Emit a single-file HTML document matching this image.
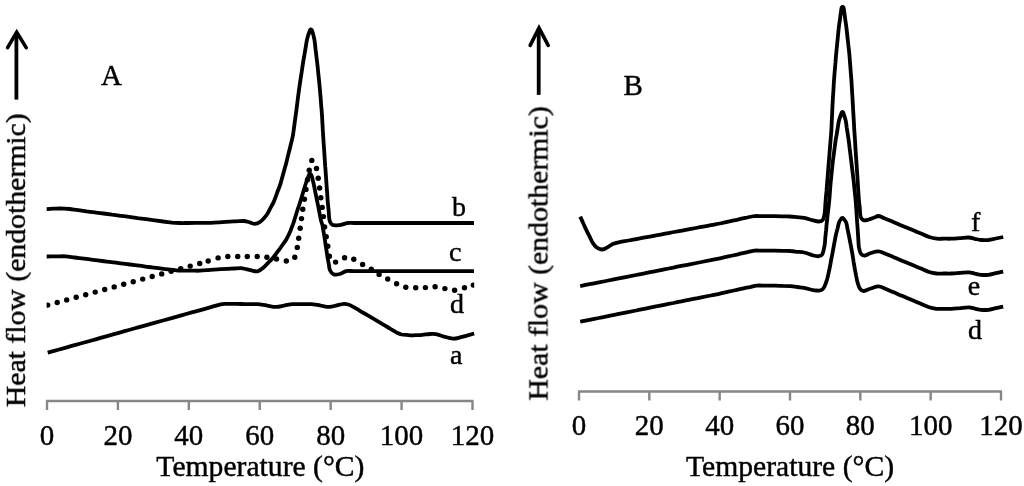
<!DOCTYPE html>
<html><head><meta charset="utf-8"><title>DSC thermograms</title>
<style>
html,body{margin:0;padding:0;background:#fff;}
svg{display:block;}
text{font-family:"Liberation Serif",serif;font-size:30px;fill:#000;stroke:#000;stroke-width:0.45px;}
</style></head><body>
<svg width="1024" height="486" viewBox="0 0 1024 486">
<defs><clipPath id="dc"><rect x="46.6" y="100" width="427.6" height="300"/></clipPath><filter id="soft" x="0" y="0" width="1024" height="486" filterUnits="userSpaceOnUse"><feGaussianBlur stdDeviation="0.55"/></filter></defs>
<rect width="1024" height="486" fill="#fff"/>
<g filter="url(#soft)">
<path d="M46.7,209.1C49.0,209.0 51.2,208.8 53.5,208.7C55.7,208.6 57.9,208.3 60.2,208.3C63.3,208.4 66.5,208.7 69.6,209.0C72.4,209.3 75.3,209.8 78.1,210.1C80.9,210.5 83.7,210.9 86.6,211.3C89.4,211.6 92.2,212.0 95.0,212.4C97.9,212.8 100.7,213.2 103.5,213.5C106.4,213.9 109.2,214.3 112.0,214.7C114.8,215.0 117.7,215.4 120.5,215.8C123.4,216.2 126.2,216.6 129.1,216.9C131.9,217.3 134.8,217.7 137.7,218.1C140.5,218.4 143.4,218.8 146.2,219.2C149.1,219.6 152.0,220.0 154.8,220.3C157.7,220.7 160.6,221.1 163.4,221.5C166.3,221.8 169.1,222.3 172.0,222.6C174.7,222.8 177.3,222.9 180.0,223.0C182.6,223.1 185.1,223.0 187.7,223.0C190.3,223.0 192.8,223.0 195.4,222.9C198.0,222.9 200.5,222.9 203.1,222.9C205.7,222.9 208.2,223.0 210.8,222.9C213.3,222.8 215.8,222.6 218.3,222.4C220.8,222.2 223.4,222.1 225.9,221.9C228.4,221.7 230.9,221.5 233.4,221.4C235.2,221.3 237.0,221.3 238.8,221.2C240.5,221.1 242.3,220.9 244.1,221.0C245.6,221.1 247.1,221.6 248.6,222.0C250.5,222.5 252.3,223.8 254.3,223.8C256.3,223.8 258.3,223.2 259.9,222.0C262.6,220.1 264.7,217.4 266.7,214.8C268.1,212.9 269.0,210.7 270.1,208.6C271.2,206.5 272.5,204.6 273.5,202.4C274.8,199.5 275.8,196.4 276.9,193.4C278.0,190.3 279.3,187.4 280.3,184.3C281.0,182.1 281.6,179.8 282.2,177.5C282.8,175.2 283.5,173.0 284.1,170.7C284.7,168.4 285.4,166.2 286.0,163.9C286.8,160.9 287.5,157.9 288.2,154.9C289.0,151.8 289.8,148.8 290.5,145.8C290.9,144.0 291.3,142.2 291.8,140.4C292.2,138.6 292.7,136.8 293.0,135.0C293.4,132.7 293.6,130.3 294.0,127.9C294.3,125.6 294.6,123.2 294.9,120.9C295.3,118.5 295.6,116.2 295.9,113.8C296.3,111.1 296.6,108.3 297.0,105.6C297.3,102.8 297.7,100.1 298.0,97.3C298.4,94.6 298.7,91.8 299.1,89.1C299.5,86.4 299.9,83.6 300.3,80.9C300.7,78.1 301.2,75.4 301.6,72.6C302.0,69.9 302.4,67.1 302.8,64.4C303.2,61.7 303.7,58.9 304.2,56.2C304.7,53.4 305.1,50.7 305.6,47.9C306.1,45.2 306.4,42.4 307.0,39.7C307.6,37.1 308.4,34.5 309.3,32.0C309.7,31.0 309.9,29.3 310.9,29.3C311.9,29.3 312.2,31.0 312.5,32.0C313.3,34.5 313.9,37.1 314.4,39.7C314.9,42.4 315.1,45.2 315.4,47.9C315.7,50.7 316.1,53.4 316.4,56.2C316.7,58.9 317.1,61.7 317.4,64.4C317.7,67.1 318.0,69.9 318.2,72.6C318.5,75.4 318.8,78.1 319.1,80.9C319.3,83.6 319.6,86.4 319.9,89.1C320.1,91.8 320.3,94.6 320.6,97.3C320.8,100.1 321.0,102.8 321.2,105.6C321.5,108.3 321.7,111.1 321.9,113.8C322.1,116.2 322.2,118.5 322.3,120.9C322.4,123.2 322.6,125.6 322.7,127.9C322.8,130.3 323.0,132.6 323.1,135.0C323.3,137.5 323.4,139.9 323.6,142.4C323.8,144.8 323.9,147.3 324.1,149.7C324.3,152.2 324.4,154.6 324.6,157.1C324.8,160.1 325.0,163.1 325.2,166.2C325.5,169.2 325.7,172.2 325.9,175.2C326.1,178.2 326.3,181.3 326.5,184.3C326.7,187.3 326.9,190.3 327.2,193.3C327.4,196.4 327.5,199.4 327.8,202.4C328.1,205.4 328.4,208.4 328.7,211.4C329.0,214.5 328.8,217.6 329.6,220.5C330.0,222.1 330.8,224.0 332.3,224.8C334.3,225.8 336.8,225.5 339.1,225.2C342.0,224.9 344.7,223.4 347.6,223.0C349.6,222.7 351.7,223.0 353.8,223.0C355.9,223.0 357.9,223.0 360.0,223.0C363.2,223.0 366.3,223.0 369.5,223.0C372.7,223.0 375.8,223.0 379.0,223.0C382.2,223.0 385.3,223.0 388.5,223.0C391.7,223.0 394.8,223.0 398.0,223.0C401.2,223.0 404.3,223.0 407.5,223.0C410.7,223.0 413.8,223.0 417.0,223.0C420.2,223.0 423.3,223.0 426.5,223.0C429.7,223.0 432.8,223.0 436.0,223.0C439.2,223.0 442.3,223.0 445.5,223.0C448.7,223.0 451.8,223.0 455.0,223.0C458.2,223.0 461.3,223.0 464.5,223.0C467.7,223.0 470.8,223.0 474.0,223.0" fill="none" stroke="#000" stroke-width="3.8" stroke-linejoin="round"/>
<path d="M46.7,256.5C49.8,256.5 53.0,256.4 56.1,256.4C59.2,256.4 62.4,256.1 65.5,256.3C68.6,256.5 71.6,257.1 74.7,257.5C77.7,257.9 80.8,258.2 83.8,258.6C86.9,259.0 89.9,259.4 93.0,259.8C96.1,260.2 99.1,260.6 102.2,261.0C105.2,261.4 108.3,261.7 111.3,262.1C114.4,262.5 117.4,262.9 120.5,263.3C123.7,263.7 126.8,264.1 130.0,264.5C133.2,264.9 136.3,265.3 139.5,265.7C142.7,266.1 145.8,266.6 149.0,267.0C152.2,267.4 155.3,267.8 158.5,268.2C161.7,268.6 164.8,269.0 168.0,269.4C169.7,269.6 171.3,269.8 173.0,270.0C174.7,270.2 176.3,270.5 178.0,270.6C180.4,270.7 182.9,270.6 185.3,270.6C187.8,270.6 190.2,270.7 192.7,270.7C195.1,270.7 197.6,270.8 200.0,270.7C202.3,270.6 204.6,270.4 206.9,270.2C209.2,270.0 211.4,269.9 213.7,269.7C216.0,269.5 218.3,269.3 220.6,269.2C222.9,269.1 225.2,269.0 227.5,268.9C229.8,268.8 232.0,268.6 234.3,268.5C236.6,268.4 238.9,268.1 241.2,268.2C242.9,268.3 244.6,268.9 246.3,269.2C248.0,269.6 249.7,270.0 251.4,270.3C253.5,270.7 255.6,271.8 257.6,271.3C260.0,270.7 261.9,268.7 263.8,267.2C265.3,266.0 266.5,264.5 267.9,263.1C269.3,261.7 270.7,260.5 272.0,259.0C273.4,257.3 274.7,255.5 276.0,253.8C277.3,252.0 278.7,250.3 280.0,248.5C281.0,247.1 282.0,245.7 283.0,244.2C284.0,242.8 285.1,241.5 286.0,240.0C287.5,237.4 288.8,234.7 290.0,232.0C290.7,230.5 291.2,228.8 291.8,227.2C292.4,225.7 293.1,224.1 293.6,222.5C294.2,220.7 294.7,218.8 295.3,217.0C295.9,215.2 296.4,213.3 297.0,211.5C297.6,209.6 298.2,207.7 298.9,205.8C299.5,204.0 300.1,202.1 300.7,200.2C301.7,197.2 302.6,194.1 303.5,191.1C304.4,188.1 305.3,185.0 306.3,182.0C307.1,179.6 308.0,177.3 309.0,175.0C309.3,174.4 309.6,173.4 310.2,173.5C311.0,173.7 311.2,174.8 311.5,175.5C312.2,177.3 312.6,179.1 313.0,181.0C313.7,183.8 314.2,186.6 314.8,189.4C315.3,192.3 315.9,195.1 316.5,197.9C317.0,200.4 317.5,202.9 318.0,205.4C318.5,207.9 319.0,210.5 319.5,213.0C320.0,215.5 320.4,218.0 321.0,220.5C321.4,222.0 322.0,223.5 322.4,225.0C322.9,227.0 323.1,229.1 323.4,231.2C323.8,233.2 324.2,235.2 324.5,237.3C324.9,239.6 325.2,241.9 325.5,244.2C325.9,246.5 326.2,248.7 326.6,251.0C326.9,253.3 327.2,255.6 327.6,257.9C328.0,260.0 328.4,262.0 328.8,264.1C329.2,266.2 329.1,268.4 330.0,270.3C330.8,272.0 332.0,273.8 333.7,274.4C335.6,275.1 337.9,274.5 339.9,274.0C342.1,273.4 343.9,271.6 346.2,271.1C348.4,270.6 350.8,271.1 353.1,271.1C355.4,271.1 357.7,271.1 360.0,271.1C363.2,271.1 366.3,271.1 369.5,271.1C372.7,271.1 375.8,271.1 379.0,271.1C382.2,271.1 385.3,271.1 388.5,271.1C391.7,271.1 394.8,271.1 398.0,271.1C401.2,271.1 404.3,271.1 407.5,271.1C410.7,271.1 413.8,271.1 417.0,271.1C420.2,271.1 423.3,271.1 426.5,271.1C429.7,271.1 432.8,271.1 436.0,271.1C439.2,271.1 442.3,271.1 445.5,271.1C448.7,271.1 451.8,271.1 455.0,271.1C458.2,271.1 461.3,271.1 464.5,271.1C467.7,271.1 470.8,271.1 474.0,271.1" fill="none" stroke="#000" stroke-width="3.8" stroke-linejoin="round"/>
<path d="M47.7,352.7C50.9,351.8 54.1,350.9 57.3,350.0C60.5,349.1 63.7,348.2 66.9,347.3C70.1,346.4 73.3,345.5 76.5,344.6C79.7,343.8 82.9,342.9 86.1,342.0C89.3,341.1 92.5,340.2 95.7,339.3C98.9,338.4 102.1,337.5 105.3,336.6C108.5,335.7 111.7,334.8 114.9,333.9C118.1,333.0 121.3,332.1 124.5,331.2C127.7,330.3 130.9,329.4 134.1,328.5C137.4,327.7 140.6,326.8 143.8,325.9C147.0,325.0 150.2,324.1 153.4,323.2C156.6,322.3 159.8,321.4 163.0,320.5C166.2,319.6 169.4,318.7 172.6,317.8C175.8,316.9 179.0,316.0 182.2,315.1C185.4,314.2 188.6,313.3 191.8,312.4C195.0,311.6 198.2,310.7 201.4,309.8C204.6,308.9 207.8,308.0 211.0,307.1C214.2,306.2 217.4,305.2 220.6,304.4C221.9,304.1 223.3,303.9 224.7,303.8C227.4,303.7 230.2,303.9 232.9,303.9C235.7,303.9 238.4,304.0 241.2,304.0C243.9,304.0 246.6,304.1 249.4,304.1C252.1,304.1 254.9,304.0 257.6,304.2C260.7,304.5 263.8,305.1 266.9,305.5C269.9,306.0 273.0,306.9 276.1,306.9C278.9,306.9 281.6,306.0 284.4,305.5C287.1,305.1 289.8,304.4 292.6,304.2C295.7,304.0 298.8,304.2 301.9,304.2C304.9,304.2 308.0,304.0 311.1,304.2C314.2,304.4 317.3,305.1 320.4,305.5C323.4,306.0 326.5,306.9 329.6,306.9C332.1,306.9 334.4,305.9 336.8,305.4C339.2,304.8 341.6,304.0 344.0,303.8C345.4,303.7 346.8,304.1 348.2,304.5C349.6,304.9 351.0,305.6 352.3,306.3C354.9,307.7 357.3,309.3 359.9,310.8C362.4,312.3 364.9,313.7 367.4,315.2C369.9,316.7 372.4,318.2 375.0,319.7C377.5,321.2 380.0,322.7 382.5,324.2C385.0,325.7 387.5,327.1 390.1,328.6C392.6,330.1 395.0,331.8 397.6,333.1C398.9,333.7 400.3,334.2 401.7,334.5C403.4,334.8 405.1,334.8 406.9,334.9C408.6,335.1 410.3,335.4 412.0,335.4C413.7,335.4 415.4,335.2 417.1,335.1C418.9,335.1 420.6,335.1 422.3,334.9C424.9,334.7 427.4,334.1 430.0,334.0C432.0,333.9 434.0,333.8 436.0,334.2C438.7,334.7 441.3,335.9 444.0,336.6C447.0,337.4 450.1,338.4 453.2,338.6C455.3,338.7 457.3,338.1 459.3,337.6C461.8,337.0 464.3,336.2 466.8,335.6C469.2,334.9 471.7,334.2 474.2,333.5" fill="none" stroke="#000" stroke-width="3.8" stroke-linejoin="round"/>
<path d="M580.2,216.6C581.2,218.7 582.1,220.9 583.1,223.0C584.1,225.1 585.0,227.3 586.0,229.4C587.1,231.7 588.2,233.9 589.4,236.1C590.5,238.3 591.4,240.7 592.7,242.8C593.8,244.6 595.0,246.3 596.7,247.6C598.1,248.7 599.9,249.4 601.6,249.5C603.2,249.6 604.7,248.8 606.1,248.1C608.4,247.0 610.4,245.1 612.8,244.1C614.9,243.2 617.2,242.7 619.5,242.2C622.5,241.5 625.6,241.1 628.6,240.5C631.7,239.9 634.7,239.4 637.8,238.8C640.8,238.2 643.9,237.7 646.9,237.1C650.0,236.5 653.0,236.0 656.0,235.4C659.1,234.8 662.1,234.3 665.2,233.7C668.2,233.1 671.3,232.6 674.3,232.0C677.4,231.4 680.4,230.9 683.5,230.3C686.5,229.7 689.5,229.2 692.6,228.6C695.6,228.0 698.7,227.5 701.7,226.9C704.8,226.3 707.8,225.8 710.9,225.2C713.9,224.6 717.0,224.1 720.0,223.5C722.8,222.9 725.6,222.3 728.4,221.6C731.2,221.0 734.1,220.4 736.9,219.8C739.7,219.1 742.5,218.5 745.3,217.9C748.3,217.3 751.3,216.4 754.4,216.1C756.6,215.8 758.9,216.1 761.2,216.1C763.4,216.1 765.7,216.1 767.9,216.1C770.2,216.1 772.4,216.1 774.7,216.1C777.4,216.1 780.0,216.2 782.7,216.3C785.3,216.4 788.0,216.3 790.6,216.5C792.9,216.6 795.1,217.0 797.4,217.2C799.7,217.4 802.0,217.5 804.2,217.9C807.3,218.5 810.2,219.7 813.3,220.4C815.1,220.9 817.0,221.6 818.9,221.5C820.3,221.4 822.0,221.0 822.8,219.9C824.1,218.1 824.2,215.7 824.6,213.6C825.0,211.4 825.0,209.1 825.2,206.8C825.3,204.5 825.5,202.3 825.7,200.0C825.9,197.0 826.2,194.0 826.5,191.0C826.7,188.0 827.0,185.0 827.2,182.0C827.4,179.1 827.7,176.2 827.9,173.3C828.1,170.4 828.4,167.6 828.6,164.7C828.8,161.8 829.1,158.9 829.3,156.0C829.5,153.1 829.8,150.2 830.0,147.3C830.2,144.4 830.5,141.6 830.7,138.7C830.9,135.8 831.2,132.9 831.4,130.0C831.6,127.4 831.6,124.9 831.7,122.3C831.8,119.8 832.0,117.2 832.1,114.7C832.2,112.1 832.3,109.6 832.4,107.0C832.6,104.0 832.8,101.1 832.9,98.1C833.1,95.1 833.3,92.2 833.5,89.2C833.6,86.2 833.8,83.3 834.0,80.3C834.2,77.3 834.5,74.3 834.7,71.4C835.0,68.4 835.2,65.4 835.5,62.4C835.7,59.5 835.9,56.5 836.2,53.5C836.5,50.5 836.8,47.5 837.1,44.6C837.4,41.6 837.7,38.6 838.0,35.6C838.3,32.7 838.5,29.7 838.9,26.7C839.2,24.2 839.6,21.8 840.0,19.4C840.3,16.9 840.5,14.4 841.0,12.0C841.4,10.3 840.9,7.0 842.6,7.0C844.3,7.0 843.8,10.3 844.2,12.0C844.7,14.4 844.9,16.9 845.2,19.4C845.6,21.8 846.0,24.2 846.3,26.7C846.7,29.7 847.0,32.7 847.3,35.6C847.6,38.6 848.0,41.6 848.3,44.6C848.6,47.5 849.0,50.5 849.3,53.5C849.6,56.5 849.8,59.5 850.0,62.4C850.2,65.4 850.5,68.4 850.7,71.4C850.9,74.3 851.2,77.3 851.4,80.3C851.6,83.3 851.8,86.2 851.9,89.2C852.1,92.2 852.3,95.1 852.5,98.1C852.6,101.1 852.8,104.0 853.0,107.0C853.1,109.6 853.3,112.1 853.4,114.7C853.6,117.2 853.7,119.8 853.9,122.3C854.0,124.9 854.1,127.4 854.3,130.0C854.5,132.9 854.7,135.8 854.9,138.8C855.1,141.7 855.3,144.6 855.4,147.5C855.6,150.4 855.8,153.3 856.0,156.2C856.2,159.2 856.4,162.1 856.6,165.0C856.8,167.9 857.0,170.8 857.2,173.8C857.4,176.7 857.6,179.6 857.8,182.5C857.9,185.4 858.1,188.3 858.3,191.2C858.5,194.2 858.7,197.1 858.9,200.0C859.1,202.8 859.5,205.5 859.8,208.2C860.0,211.0 859.8,213.9 860.6,216.5C861.1,218.0 862.1,219.7 863.6,220.2C865.2,220.8 867.1,219.9 868.8,219.5C870.5,219.1 872.1,218.3 873.7,217.8C875.3,217.2 876.9,215.9 878.6,216.0C880.8,216.2 882.7,217.7 884.8,218.5C887.8,219.7 890.7,221.0 893.7,222.2C896.6,223.4 899.6,224.7 902.6,225.9C905.5,227.1 908.5,228.4 911.4,229.6C914.4,230.8 917.4,232.1 920.3,233.3C923.3,234.5 926.2,236.0 929.2,237.0C931.6,237.8 934.1,238.4 936.6,238.7C939.1,239.0 941.5,238.7 944.0,238.7C946.5,238.7 948.9,238.8 951.4,238.7C954.3,238.6 957.2,238.3 960.0,238.1C962.9,237.9 965.8,237.4 968.7,237.5C970.8,237.6 972.8,238.3 974.9,238.8C976.9,239.2 978.9,239.8 981.0,240.0C983.5,240.2 985.9,240.2 988.4,240.0C990.9,239.7 993.3,239.0 995.8,238.5C998.3,238.0 1000.7,237.5 1003.2,237.0" fill="none" stroke="#000" stroke-width="3.8" stroke-linejoin="round"/>
<path d="M580.2,286.1C583.3,285.5 586.4,284.9 589.5,284.2C592.6,283.6 595.7,283.0 598.8,282.4C601.9,281.8 605.1,281.2 608.2,280.5C611.3,279.9 614.4,279.3 617.5,278.7C620.6,278.1 623.7,277.5 626.8,276.8C629.9,276.2 633.0,275.6 636.1,275.0C639.2,274.4 642.3,273.7 645.4,273.1C648.5,272.5 651.7,271.9 654.8,271.3C657.9,270.7 661.0,270.0 664.1,269.4C667.2,268.8 670.3,268.2 673.4,267.6C676.5,266.9 679.6,266.3 682.7,265.7C685.8,265.1 688.9,264.5 692.0,263.9C695.1,263.2 698.3,262.6 701.4,262.0C704.5,261.4 707.6,260.8 710.7,260.2C713.8,259.5 716.9,258.9 720.0,258.3C722.8,257.7 725.6,257.1 728.4,256.4C731.2,255.8 734.1,255.2 736.9,254.6C739.7,253.9 742.5,253.3 745.3,252.7C748.3,252.0 751.3,251.0 754.4,250.6C756.6,250.3 758.9,250.6 761.2,250.6C763.4,250.6 765.7,250.6 767.9,250.6C770.2,250.6 772.4,250.6 774.7,250.6C777.4,250.6 780.0,250.7 782.7,250.8C785.3,250.9 788.0,250.8 790.6,251.0C792.9,251.1 795.1,251.5 797.4,251.8C799.7,252.0 802.0,252.0 804.2,252.5C807.3,253.2 810.2,254.7 813.3,255.5C815.1,256.0 817.0,256.4 818.9,256.2C820.2,256.0 821.7,255.5 822.3,254.4C823.7,251.6 824.0,248.4 824.6,245.3C825.1,242.8 825.1,240.3 825.3,237.8C825.6,235.3 825.8,232.7 826.1,230.2C826.3,227.7 826.5,225.2 826.8,222.7C827.1,220.2 827.4,217.7 827.6,215.1C827.9,212.6 828.2,210.1 828.5,207.6C828.7,205.0 829.1,202.5 829.3,200.0C829.6,197.1 829.8,194.1 830.0,191.2C830.2,188.2 830.4,185.2 830.7,182.3C830.9,180.0 831.2,177.7 831.4,175.4C831.6,173.1 831.9,170.9 832.1,168.6C832.3,166.3 832.5,164.0 832.8,161.7C833.1,159.4 833.4,157.1 833.7,154.9C834.0,152.6 834.3,150.3 834.6,148.0C834.9,145.8 835.2,143.5 835.5,141.2C835.8,138.9 836.3,136.6 836.7,134.3C837.1,132.0 837.4,129.8 837.8,127.5C838.2,125.2 838.4,122.9 839.0,120.6C839.5,118.5 840.2,116.5 841.0,114.5C841.4,113.6 841.4,112.0 842.4,112.0C843.4,112.0 843.5,113.6 843.8,114.5C844.6,116.5 845.2,118.5 845.7,120.6C846.2,122.9 846.4,125.2 846.7,127.5C847.1,129.8 847.4,132.0 847.8,134.3C848.1,136.6 848.5,138.9 848.8,141.2C849.1,143.5 849.4,145.8 849.6,148.0C849.9,150.3 850.2,152.6 850.5,154.9C850.7,157.1 851.0,159.4 851.3,161.7C851.6,164.0 851.9,166.3 852.1,168.6C852.4,170.9 852.7,173.1 853.0,175.4C853.2,177.7 853.5,180.0 853.8,182.3C854.1,185.2 854.4,188.2 854.7,191.2C855.0,194.1 855.3,197.0 855.6,200.0C855.9,203.1 856.0,206.3 856.3,209.5C856.5,212.6 856.7,215.8 856.9,218.9C857.1,222.1 857.4,225.2 857.6,228.4C857.8,231.5 858.0,234.7 858.2,237.8C858.5,241.0 858.4,244.2 858.9,247.3C859.3,249.6 859.7,252.0 861.0,253.9C861.8,255.0 863.3,255.7 864.7,255.6C866.9,255.4 868.7,253.7 870.8,253.0C873.3,252.2 875.9,251.2 878.6,251.3C880.8,251.4 882.8,252.7 884.8,253.5C887.8,254.7 890.7,256.0 893.7,257.2C896.6,258.4 899.6,259.7 902.6,260.9C905.5,262.1 908.5,263.4 911.4,264.6C914.4,265.8 917.4,267.1 920.3,268.3C923.3,269.5 926.1,271.0 929.2,272.0C931.6,272.8 934.1,273.2 936.6,273.5C939.1,273.7 941.5,273.5 944.0,273.5C946.5,273.5 948.9,273.6 951.4,273.5C954.3,273.4 957.2,273.1 960.0,272.9C962.9,272.7 965.8,272.2 968.7,272.3C970.8,272.4 972.8,273.1 974.9,273.6C976.9,274.0 978.9,274.6 981.0,274.8C983.5,275.0 985.9,275.1 988.4,274.8C990.9,274.5 993.3,273.7 995.8,273.2C998.3,272.7 1000.7,272.1 1003.2,271.6" fill="none" stroke="#000" stroke-width="3.8" stroke-linejoin="round"/>
<path d="M580.2,321.7C583.3,321.1 586.4,320.5 589.5,319.8C592.6,319.2 595.7,318.6 598.8,318.0C601.9,317.3 605.1,316.7 608.2,316.1C611.3,315.5 614.4,314.8 617.5,314.2C620.6,313.6 623.7,313.0 626.8,312.3C629.9,311.7 633.0,311.1 636.1,310.5C639.2,309.8 642.3,309.2 645.4,308.6C648.5,308.0 651.7,307.3 654.8,306.7C657.9,306.1 661.0,305.5 664.1,304.8C667.2,304.2 670.3,303.6 673.4,303.0C676.5,302.3 679.6,301.7 682.7,301.1C685.8,300.5 688.9,299.8 692.0,299.2C695.1,298.6 698.3,298.0 701.4,297.3C704.5,296.7 707.6,296.1 710.7,295.5C713.8,294.8 716.9,294.3 720.0,293.6C722.8,293.0 725.6,292.3 728.4,291.7C731.2,291.1 734.1,290.4 736.9,289.8C739.7,289.2 742.5,288.5 745.3,287.9C747.2,287.5 749.1,287.1 751.0,286.8C752.8,286.4 754.7,285.7 756.6,285.6C759.6,285.4 762.6,285.6 765.7,285.6C768.7,285.6 771.7,285.6 774.7,285.6C777.4,285.6 780.0,285.8 782.7,285.9C785.3,285.9 788.0,285.9 790.6,286.1C792.9,286.3 795.1,286.7 797.4,287.0C799.7,287.3 802.0,287.5 804.2,287.9C807.3,288.5 810.2,289.5 813.3,290.1C815.1,290.4 817.0,290.7 818.9,290.6C820.1,290.5 821.3,290.2 822.3,289.5C823.3,288.8 824.0,287.6 824.5,286.5C825.6,284.1 826.4,281.5 827.2,279.0C827.7,277.2 828.0,275.3 828.5,273.4C828.9,271.6 829.3,269.8 829.7,267.9C830.3,265.2 830.7,262.4 831.2,259.6C831.8,256.9 832.3,254.1 832.8,251.4C833.3,248.7 833.8,245.9 834.3,243.2C834.9,240.5 835.3,237.7 835.9,235.0C836.3,232.9 836.9,230.9 837.5,228.8C838.0,226.7 838.3,224.6 839.0,222.6C839.5,221.3 840.2,220.1 841.0,219.0C841.3,218.5 841.8,218.0 842.4,218.0C843.0,218.0 843.4,218.6 843.8,219.0C844.7,220.1 845.7,221.2 846.2,222.6C847.0,224.9 847.2,227.4 847.7,229.8C848.2,232.2 848.7,234.6 849.2,237.0C849.7,239.7 850.2,242.5 850.8,245.2C851.3,248.0 851.8,250.7 852.3,253.5C852.8,256.2 853.2,259.0 853.6,261.8C854.1,264.5 854.5,267.3 855.0,270.0C855.4,272.1 855.8,274.1 856.2,276.1C856.7,278.2 856.9,280.3 857.5,282.3C858.2,284.6 858.7,287.0 860.1,288.9C860.9,290.0 862.2,291.1 863.6,291.0C866.1,290.9 868.4,289.2 870.8,288.5C873.4,287.7 875.9,286.4 878.6,286.4C880.8,286.4 882.8,287.7 884.8,288.5C887.8,289.7 890.7,291.0 893.7,292.3C896.6,293.5 899.6,294.8 902.6,296.0C905.5,297.3 908.5,298.5 911.4,299.8C914.4,301.0 917.4,302.3 920.3,303.5C923.3,304.8 926.1,306.3 929.2,307.3C931.6,308.1 934.1,308.5 936.6,308.8C939.1,309.0 941.5,308.8 944.0,308.8C946.5,308.8 948.9,308.9 951.4,308.8C954.3,308.7 957.2,308.3 960.0,308.1C962.9,307.8 965.8,307.2 968.7,307.3C970.8,307.4 972.8,308.1 974.9,308.6C976.9,309.0 978.9,309.6 981.0,309.8C983.5,310.0 985.9,310.1 988.4,309.8C990.9,309.5 993.3,308.7 995.8,308.2C998.3,307.7 1000.7,307.1 1003.2,306.6" fill="none" stroke="#000" stroke-width="3.8" stroke-linejoin="round"/>
<g fill="#000" clip-path="url(#dc)"><circle cx="47.7" cy="305.1" r="2.7"/><circle cx="57.2" cy="302.5" r="2.7"/><circle cx="66.7" cy="299.9" r="2.7"/><circle cx="76.2" cy="297.3" r="2.7"/><circle cx="85.7" cy="294.7" r="2.7"/><circle cx="95.2" cy="292.1" r="2.7"/><circle cx="104.7" cy="289.5" r="2.7"/><circle cx="114.2" cy="286.9" r="2.7"/><circle cx="123.7" cy="284.3" r="2.7"/><circle cx="133.2" cy="281.7" r="2.7"/><circle cx="142.7" cy="279.1" r="2.7"/><circle cx="152.2" cy="276.5" r="2.7"/><circle cx="161.7" cy="273.9" r="2.7"/><circle cx="171.2" cy="271.3" r="2.7"/><circle cx="180.7" cy="268.7" r="2.7"/><circle cx="190.2" cy="266.1" r="2.7"/><circle cx="199.7" cy="263.5" r="2.7"/><circle cx="208.2" cy="261" r="2.7"/><circle cx="218.1" cy="257.9" r="2.7"/><circle cx="227.8" cy="256.5" r="2.7"/><circle cx="237.7" cy="256.5" r="2.7"/><circle cx="247.3" cy="256.5" r="2.7"/><circle cx="257.2" cy="256.5" r="2.7"/><circle cx="266.9" cy="257.3" r="2.7"/><circle cx="276.5" cy="259" r="2.7"/><circle cx="286.3" cy="261" r="2.7"/><circle cx="294.8" cy="257.3" r="2.7"/><circle cx="297.3" cy="247.4" r="2.7"/><circle cx="298.7" cy="238.2" r="2.7"/><circle cx="300.2" cy="228.3" r="2.7"/><circle cx="301.5" cy="218.6" r="2.7"/><circle cx="302.8" cy="209.2" r="2.7"/><circle cx="304.4" cy="199.2" r="2.7"/><circle cx="306" cy="189.4" r="2.7"/><circle cx="307.5" cy="179.8" r="2.7"/><circle cx="309.2" cy="170.2" r="2.7"/><circle cx="311.8" cy="160.4" r="2.7"/><circle cx="316.5" cy="168.5" r="2.7"/><circle cx="318.2" cy="178.2" r="2.7"/><circle cx="319.6" cy="188" r="2.7"/><circle cx="320.8" cy="197.7" r="2.7"/><circle cx="322.2" cy="207.4" r="2.7"/><circle cx="323.4" cy="216.6" r="2.7"/><circle cx="324.6" cy="227" r="2.7"/><circle cx="326.2" cy="236.8" r="2.7"/><circle cx="327.8" cy="246.2" r="2.7"/><circle cx="329.4" cy="256.2" r="2.7"/><circle cx="335.6" cy="262.1" r="2.7"/><circle cx="344.6" cy="257.8" r="2.7"/><circle cx="353.8" cy="259.3" r="2.7"/><circle cx="362.6" cy="264.5" r="2.7"/><circle cx="371.3" cy="269.3" r="2.7"/><circle cx="379.1" cy="274.4" r="2.7"/><circle cx="387.7" cy="279" r="2.7"/><circle cx="396.6" cy="283.7" r="2.7"/><circle cx="405.8" cy="287.2" r="2.7"/><circle cx="415.7" cy="287.8" r="2.7"/><circle cx="425.4" cy="287.6" r="2.7"/><circle cx="435.1" cy="286.8" r="2.7"/><circle cx="444.9" cy="288.6" r="2.7"/><circle cx="454.6" cy="290.3" r="2.7"/><circle cx="464.5" cy="287.8" r="2.7"/><circle cx="473.3" cy="285.1" r="2.7"/></g>
<path d="M46,401H473.5M47.00,401V410M117.92,401V410M188.83,401V410M259.75,401V410M330.67,401V410M401.58,401V410M472.50,401V410" fill="none" stroke="#878787" stroke-width="2.4"/>
<text transform="translate(47.00,444.7) scale(0.95,1)" text-anchor="middle" style="font-size:30.5px">0</text>
<text transform="translate(117.92,444.7) scale(0.95,1)" text-anchor="middle" style="font-size:30.5px">20</text>
<text transform="translate(188.83,444.7) scale(0.95,1)" text-anchor="middle" style="font-size:30.5px">40</text>
<text transform="translate(259.75,444.7) scale(0.95,1)" text-anchor="middle" style="font-size:30.5px">60</text>
<text transform="translate(330.67,444.7) scale(0.95,1)" text-anchor="middle" style="font-size:30.5px">80</text>
<text transform="translate(401.58,444.7) scale(0.95,1)" text-anchor="middle" style="font-size:30.5px">100</text>
<text transform="translate(472.50,444.7) scale(0.95,1)" text-anchor="middle" style="font-size:30.5px">120</text>
<path d="M578,391.5H1002M579.00,391.5V400.5M649.33,391.5V400.5M719.67,391.5V400.5M790.00,391.5V400.5M860.33,391.5V400.5M930.67,391.5V400.5M1001.00,391.5V400.5" fill="none" stroke="#878787" stroke-width="2.4"/>
<text transform="translate(579.00,435.2) scale(0.95,1)" text-anchor="middle" style="font-size:30.5px">0</text>
<text transform="translate(649.33,435.2) scale(0.95,1)" text-anchor="middle" style="font-size:30.5px">20</text>
<text transform="translate(719.67,435.2) scale(0.95,1)" text-anchor="middle" style="font-size:30.5px">40</text>
<text transform="translate(790.00,435.2) scale(0.95,1)" text-anchor="middle" style="font-size:30.5px">60</text>
<text transform="translate(860.33,435.2) scale(0.95,1)" text-anchor="middle" style="font-size:30.5px">80</text>
<text transform="translate(930.67,435.2) scale(0.95,1)" text-anchor="middle" style="font-size:30.5px">100</text>
<text transform="translate(1001.00,435.2) scale(0.95,1)" text-anchor="middle" style="font-size:30.5px">120</text>
<text transform="translate(101,85) scale(0.95,1)" style="font-size:30.5px">A</text>
<text transform="translate(623.5,95) scale(0.95,1)" style="font-size:30.5px">B</text>
<text x="452" y="215.5" style="font-size:28px">b</text>
<text x="449" y="260.5" style="font-size:28px">c</text>
<text x="450" y="312.5" style="font-size:28px">d</text>
<text x="450" y="364" style="font-size:28px">a</text>
<text x="971" y="230.5" style="font-size:28px">f</text>
<text x="967.7" y="295" style="font-size:28px">e</text>
<text x="968" y="339" style="font-size:28px">d</text>
<text transform="translate(260.4,476) scale(0.985,1)" text-anchor="middle" style="font-size:30.1px">Temperature (°C)</text>
<text transform="translate(790,476) scale(0.985,1)" text-anchor="middle" style="font-size:30.1px">Temperature (°C)</text>
<text transform="translate(25.3,407.2) rotate(-90) scale(1,0.94)" style="font-size:29.75px">Heat flow (endothermic)</text>
<text transform="translate(547.8,400.6) rotate(-90) scale(1,0.94)" style="font-size:29.8px">Heat flow (endothermic)</text>
<path d="M16.4,99.6V33" fill="none" stroke="#000" stroke-width="3.8"/><path d="M7.6,47.6L16.7,32.2L26.2,47.6" fill="none" stroke="#000" stroke-width="3.6" stroke-linecap="round" stroke-linejoin="miter"/>
<path d="M538.7,94.9V29" fill="none" stroke="#000" stroke-width="3.8"/><path d="M530.2,45.4L539,28L548.2,45.4" fill="none" stroke="#000" stroke-width="3.6" stroke-linecap="round" stroke-linejoin="miter"/>
</g>
</svg>
</body></html>
